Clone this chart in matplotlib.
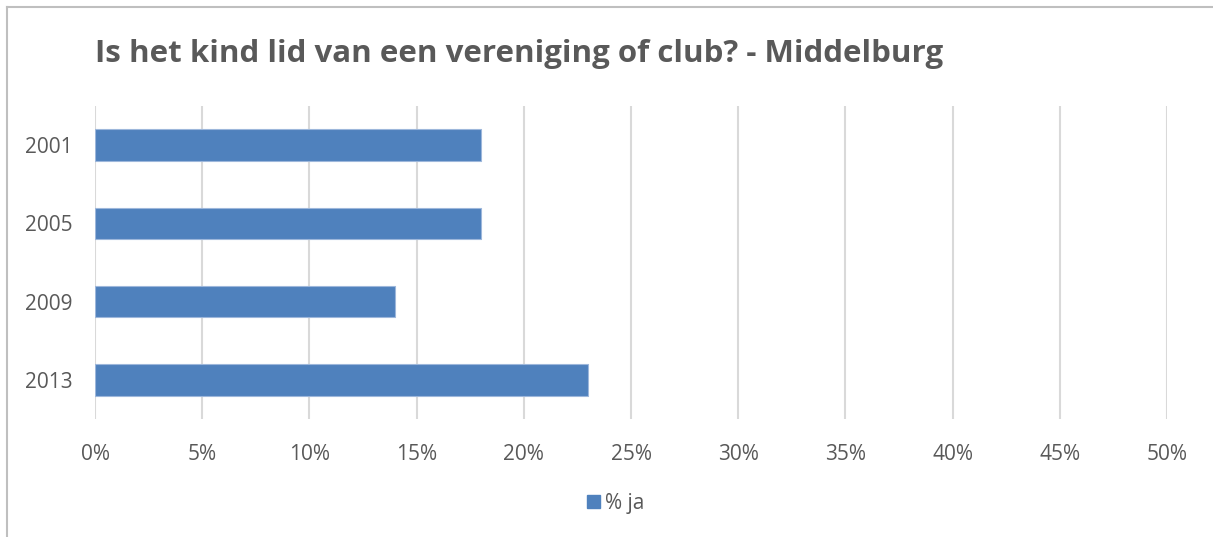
import matplotlib
matplotlib.use("Agg")
import matplotlib.pyplot as plt
from matplotlib.lines import Line2D
from matplotlib.patches import Patch

years = ["2001", "2005", "2009", "2013"]
pct_ja = [18, 18, 14, 23]
xticks = [0, 5, 10, 15, 20, 25, 30, 35, 40, 45, 50]
xtick_labels = [f"{v}%" for v in xticks]

plt.rcParams['font.family'] = ['Open Sans', 'DejaVu Sans']
W, H = 1213, 537
fig = plt.figure(figsize=(W/100, H/100), dpi=100)
ax = fig.add_axes([95/W, 1-419/H, (1167-95)/W, (419-106)/H])

ypos = list(range(len(years)))
ax.barh(ypos, pct_ja, height=0.4, color="#4F81BD", edgecolor="#9DB7DB", linewidth=0.8, zorder=3)
ax.set_ylim(len(years)-0.5, -0.5)
ax.set_yticks(ypos)
ax.set_yticklabels(years)
ax.set_xlim(0, 50)
ax.set_xticks(xticks)
ax.set_xticklabels(xtick_labels)
ax.grid(axis="x", color="#D9D9D9", linewidth=1.5, zorder=0)
for s in ax.spines.values():
    s.set_visible(False)
ax.tick_params(length=0, labelsize=15, labelcolor="#595959")
ax.tick_params(axis="x", pad=18)
ax.tick_params(axis="y", pad=16)

fig.text(95/W, 1-54/H, "Is het kind lid van een vereniging of club? - Middelburg",
         fontsize=22.5, fontweight="bold", color="#595959", va="center", ha="left")

leg = fig.legend(handles=[Patch(facecolor="#4F81BD", edgecolor="#4F81BD", label="% ja")],
                 loc="center", bbox_to_anchor=(616/W, 1-503/H), frameon=False,
                 fontsize=15, handlelength=0.6, handleheight=0.6, handletextpad=0.25)
for t in leg.get_texts():
    t.set_color("#595959")

fig.add_artist(Line2D([7/W, 7/W], [0, 1-7/H], color="#BFBFBF", linewidth=1.5, transform=fig.transFigure))
fig.add_artist(Line2D([7/W, 1], [1-7/H, 1-7/H], color="#BFBFBF", linewidth=1.5, transform=fig.transFigure))

fig.savefig("out.png", dpi=100, facecolor="white")
